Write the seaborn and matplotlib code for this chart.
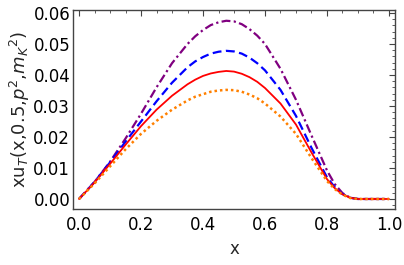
import matplotlib
matplotlib.use("Agg")
import matplotlib.pyplot as plt
from matplotlib.ticker import MultipleLocator
import seaborn as sns
import pandas as pd

# x grid and curves
x = [0.0, 0.05, 0.1, 0.15, 0.2, 0.25, 0.3, 0.35, 0.375, 0.4, 0.425, 0.45, 0.475, 0.5,
     0.525, 0.55, 0.575, 0.6, 0.65, 0.7, 0.75, 0.8, 0.825, 0.85, 0.875, 0.9, 0.95, 1.0]
purple = [0, .0055, .0120, .0195, .0275, .0360, .0438, .0500, .0525, .0545, .0561, .0570, .0575, .0573,
          .0564, .0548, .0527, .0500, .0420, .0320, .0205, .0092, .0048, .0019, .0004, 0, 0, 0]
blue = [0, .0055, .0118, .0185, .0250, .0315, .0375, .0425, .0444, .0458, .0469, .0475, .0478, .0476,
        .0469, .0456, .0438, .0415, .0352, .0268, .0165, .0070, .0038, .0016, .0004, 0, 0, 0]
red = [0, .0053, .0113, .0175, .0235, .0288, .0333, .0370, .0385, .0397, .0405, .0410, .0413, .0411,
       .0404, .0393, .0378, .0358, .0308, .0240, .0150, .0064, .0035, .0015, .0004, 0, 0, 0]
orange = [0, .0050, .0105, .0160, .0210, .0252, .0288, .0318, .0330, .0338, .0346, .0350, .0352, .0351,
          .0346, .0337, .0325, .0308, .0266, .0210, .0132, .0058, .0032, .0014, .0003, 0, 0, 0]

sns.set_style("white")
plt.rcParams["font.family"] = ["DejaVu Sans"]
plt.rcParams["mathtext.fontset"] = "dejavusans"

df = pd.DataFrame({"x": x, "purple": purple, "blue": blue, "red": red, "orange": orange})

fig = plt.figure(figsize=(4.04, 2.65), dpi=100)
ax = fig.add_axes([73 / 404, 1 - 209 / 265, 322 / 404, 199 / 265])

sns.lineplot(data=df, x="x", y="purple", ax=ax, color="#800080", lw=1.6,
             linestyle=(0, (4, 1.5, 1, 1.5)))
sns.lineplot(data=df, x="x", y="blue", ax=ax, color="#0000ff", lw=1.6,
             linestyle=(0, (4, 2)))
sns.lineplot(data=df, x="x", y="red", ax=ax, color="#ff0000", lw=1.3)
sns.lineplot(data=df, x="x", y="orange", ax=ax, color="#ff8000", lw=1.8,
             linestyle=(0, (1, 1.2)))

ax.set_xlim(-0.0194, 1.0194)
ax.set_ylim(-0.00323, 0.06097)
ax.xaxis.set_major_locator(MultipleLocator(0.2))
ax.xaxis.set_minor_locator(MultipleLocator(0.05))
ax.yaxis.set_major_locator(MultipleLocator(0.01))
ax.yaxis.set_minor_locator(MultipleLocator(0.002))
ax.xaxis.set_major_formatter(plt.FuncFormatter(lambda v, p: f"{v:.1f}"))
ax.yaxis.set_major_formatter(plt.FuncFormatter(lambda v, p: f"{v:.2f}"))
ax.tick_params(which="both", direction="in", top=True, right=True,
               colors="#444444", labelcolor="black", labelsize=12)
ax.tick_params(which="major", length=4, width=0.8)
ax.tick_params(which="minor", length=2, width=0.6)
ax.tick_params(axis="y", pad=2)
ax.tick_params(axis="x", pad=5)
for s in ax.spines.values():
    s.set_color("#444444")
    s.set_linewidth(1.0)

ax.set_xlabel("x", fontsize=12, labelpad=4)
ax.set_ylabel(r"xu$_{\mathit{T}}$(x,0.5,$\mathit{p}^{2}$,$\mathit{m_K}{}^{2}$)", fontsize=13,
              labelpad=1)

fig.savefig("out.png", dpi=100)
